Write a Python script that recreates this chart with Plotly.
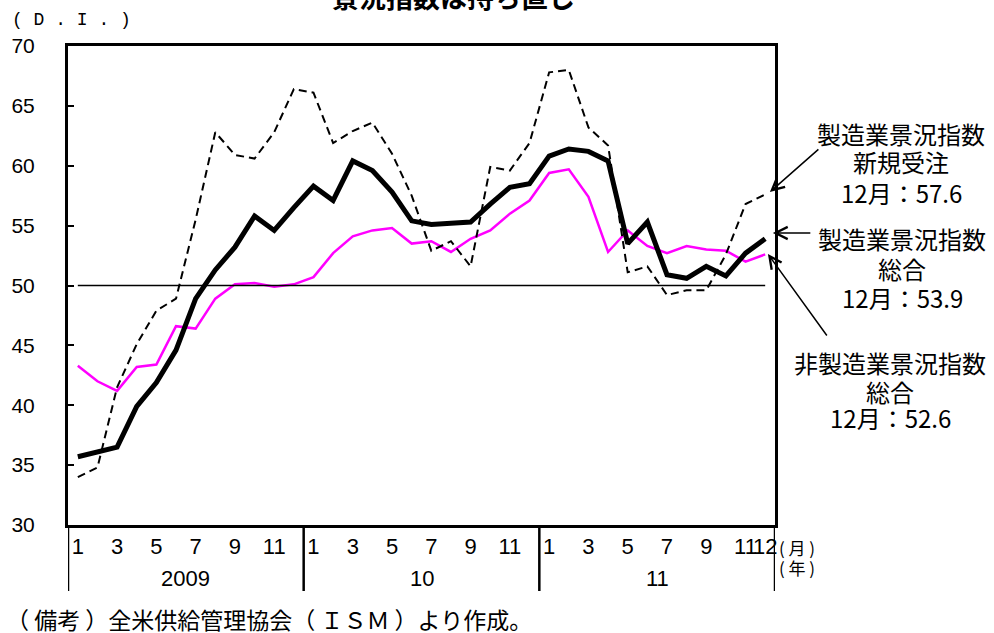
import plotly.graph_objects as go

# ---- data ----
months = ["2009-01", "2009-02", "2009-03", "2009-04", "2009-05", "2009-06",
          "2009-07", "2009-08", "2009-09", "2009-10", "2009-11", "2009-12",
          "2010-01", "2010-02", "2010-03", "2010-04", "2010-05", "2010-06",
          "2010-07", "2010-08", "2010-09", "2010-10", "2010-11", "2010-12",
          "2011-01", "2011-02", "2011-03", "2011-04", "2011-05", "2011-06",
          "2011-07", "2011-08", "2011-09", "2011-10", "2011-11", "2011-12"]

mfg_pmi = [35.7, 36.1, 36.5, 39.9, 41.9, 44.6, 48.9, 51.3, 53.2, 55.8, 54.6, 56.5,
           58.3, 57.1, 60.4, 59.6, 57.8, 55.4, 55.1, 55.2, 55.3, 56.8, 58.2, 58.5,
           60.8, 61.4, 61.2, 60.4, 53.5, 55.3, 50.9, 50.6, 51.6, 50.8, 52.7, 53.9]

new_orders = [34.0, 34.8, 41.5, 45.1, 47.9, 48.9, 55.5, 62.8, 60.9, 60.6, 62.8, 66.4,
              66.1, 61.9, 62.9, 63.6, 61.0, 57.5, 52.9, 53.7, 51.6, 59.9, 59.6, 61.9,
              67.8, 68.0, 63.2, 61.7, 51.1, 51.6, 49.2, 49.6, 49.6, 52.6, 56.8, 57.6]

non_mfg = [43.3, 42.0, 41.2, 43.2, 43.4, 46.6, 46.4, 48.9, 50.1, 50.2, 49.9, 50.1,
           50.7, 52.7, 54.1, 54.6, 54.8, 53.5, 53.7, 52.8, 53.9, 54.6, 56.0, 57.1,
           59.4, 59.7, 57.4, 52.8, 54.6, 53.3, 52.7, 53.3, 53.0, 52.9, 52.0, 52.6]

tick_months = ["2009-01", "2009-03", "2009-05", "2009-07", "2009-09", "2009-11",
               "2010-01", "2010-03", "2010-05", "2010-07", "2010-09", "2010-11",
               "2011-01", "2011-03", "2011-05", "2011-07", "2011-09", "2011-11", "2011-12"]
tick_text = ["1", "3", "5", "7", "9", "11",
             "1", "3", "5", "7", "9", "11",
             "1", "3", "5", "7", "9", "11", "12"]

years = ["2009", "10", "11"]
year_centers = [5.5, 17.5, 29.5]
year_bounds = [-0.5, 11.5, 23.5, 35.5]
threshold = 50

title_text = "景況指数は持ち直し"
unit_text = "( D . I . )"
note_text = "（ 備考 ）全米供給管理協会（ ＩＳＭ ）より作成。"

# ---- layout helpers (pixels -> paper) ----
W, H = 994, 633
L, R, T, B = 68, 219, 46, 108
PW, PH = W - L - R, H - T - B


def px(xp):
    return (xp - L) / PW


def py(yp):
    return (H - B - yp) / PH


JP = "Noto Sans CJK JP"
AR = "Liberation Sans, Arial"
MONO = "Liberation Mono, DejaVu Sans Mono"

fig = go.Figure()
fig.add_trace(go.Scatter(x=months, y=non_mfg, mode="lines",
                         line=dict(color="#FF00FF", width=2.5)))
fig.add_trace(go.Scatter(x=months, y=new_orders, mode="lines",
                         line=dict(color="black", width=2, dash="8px,5px")))
fig.add_trace(go.Scatter(x=months, y=mfg_pmi, mode="lines",
                         line=dict(color="black", width=5)))

shapes = [dict(type="line", xref="x", yref="y", x0=0, x1=len(months) - 1,
               y0=threshold, y1=threshold, line=dict(color="black", width=1.5))]
for b in year_bounds:
    shapes.append(dict(type="line", xref="x", yref="paper", x0=b, x1=b,
                       y0=0, y1=py(591), line=dict(color="black", width=2.5)))

ann = []
for yl, xc in zip(years, year_centers):
    ann.append(dict(text=yl, xref="x", yref="paper", x=xc, y=py(578),
                    showarrow=False, font=dict(family=AR, size=22, color="black"),
                    xanchor="center", yanchor="middle"))

ann.append(dict(text="( 月 )", xref="paper", yref="paper", x=px(777), y=py(547),
                showarrow=False, xanchor="left", yanchor="middle",
                font=dict(family=JP, size=17, color="black")))
ann.append(dict(text="( 年 )", xref="paper", yref="paper", x=px(777), y=py(567),
                showarrow=False, xanchor="left", yanchor="middle",
                font=dict(family=JP, size=17, color="black")))
ann.append(dict(text=unit_text, xref="paper", yref="paper", x=px(10), y=py(20),
                showarrow=False, xanchor="left", yanchor="middle",
                font=dict(family=MONO, size=18, color="black")))
ann.append(dict(text=note_text, xref="paper", yref="paper", x=px(4), y=py(619),
                showarrow=False, xanchor="left", yanchor="middle",
                font=dict(family=JP, size=23, color="black")))
ann.append(dict(text="<b>" + title_text + "</b>", xref="paper", yref="paper",
                x=px(453), y=py(-3), showarrow=False, xanchor="center",
                yanchor="middle", font=dict(family=JP, size=27, color="black")))

label_groups = [
    (901, [("製造業景況指数", 133), ("新規受注", 162), ("12月：57.6", 192)]),
    (902, [("製造業景況指数", 238), ("総合", 268), ("12月：53.9", 297)]),
    (890, [("非製造業景況指数", 362), ("総合", 391), ("12月：52.6", 417)]),
]
for xc, lines in label_groups:
    for t, yc in lines:
        ann.append(dict(text=t, xref="paper", yref="paper", x=px(xc), y=py(yc),
                        showarrow=False, xanchor="center", yanchor="middle",
                        font=dict(family=JP, size=24, color="black")))

arrows = [(35.24, 57.8, 50, -44), (35.39, 54.38, 39, 0), (35.14, 52.63, 60, 83)]
for ax_, ay_, dx, dy in arrows:
    ann.append(dict(text="", xref="x", yref="y", x=ax_, y=ay_, ax=dx, ay=dy,
                    showarrow=True, arrowhead=5, arrowsize=1.6, arrowwidth=1.5,
                    arrowcolor="black", standoff=0, startstandoff=0))

fig.update_layout(
    width=W, height=H,
    margin=dict(l=L, r=R, t=T, b=B, pad=0),
    paper_bgcolor="white", plot_bgcolor="white",
    showlegend=False,
    shapes=shapes, annotations=ann,
    xaxis=dict(type="category", categoryorder="array", categoryarray=months,
               range=[-0.5, len(months) - 0.5],
               tickmode="array", tickvals=tick_months, ticktext=tick_text,
               tickangle=0, ticks="", showgrid=False, zeroline=False,
               showline=True, linecolor="black", linewidth=3, mirror=True,
               ticklabelstandoff=0,
               tickfont=dict(family=AR, size=22, color="black")),
    yaxis=dict(range=[30, 70], tickmode="array",
               tickvals=[30, 35, 40, 45, 50, 55, 60, 65, 70],
               ticks="inside", ticklen=6, tickwidth=1.5, tickcolor="black",
               showgrid=False, zeroline=False,
               showline=True, linecolor="black", linewidth=3, mirror=True,
               ticklabelstandoff=26,
               tickfont=dict(family=AR, size=21, color="black")),
)

fig.write_html("out.html", config={"displayModeBar": False},
               post_script="document.body.style.margin='0';document.body.style.overflow='hidden';")
